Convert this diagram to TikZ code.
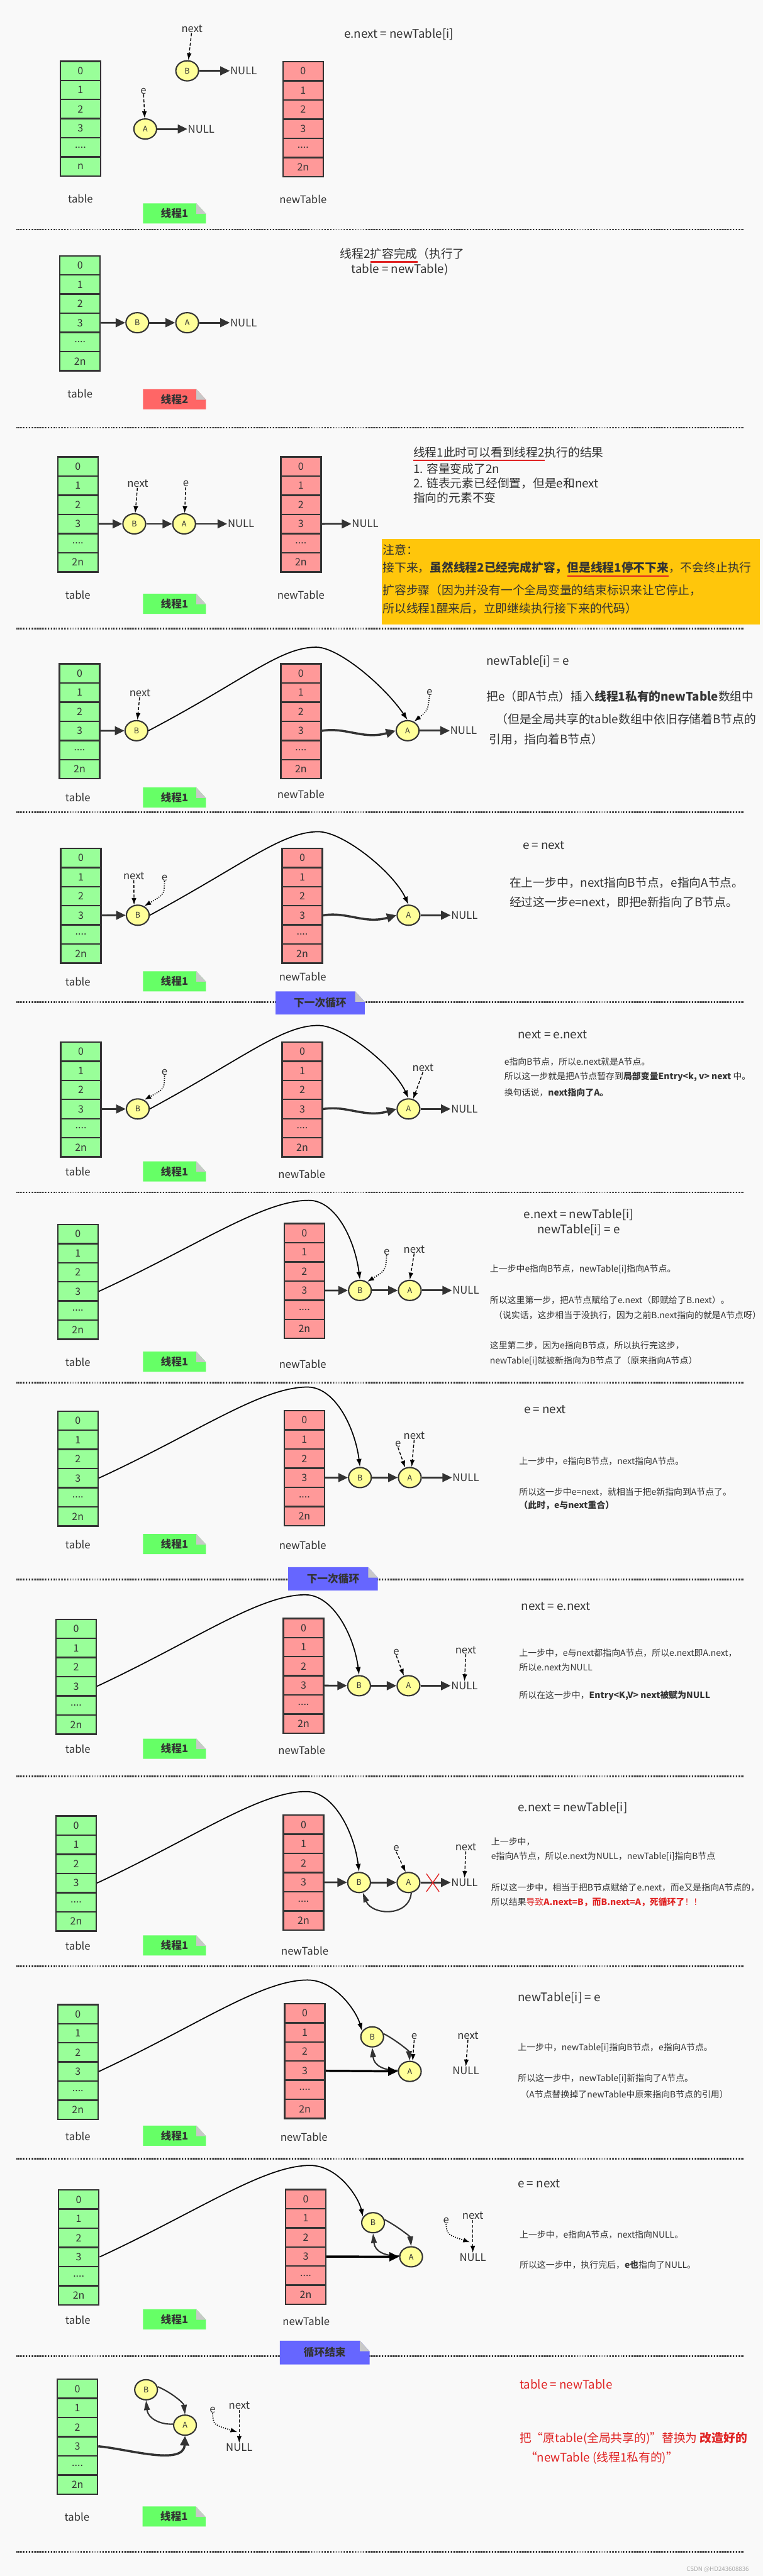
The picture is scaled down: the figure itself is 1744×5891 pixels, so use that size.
\documentclass[tikz,border=0pt]{standalone}
\usepackage{fontspec}
\setmainfont{Noto Sans CJK SC}
\usetikzlibrary{arrows.meta,shapes.geometric}

\definecolor{paper}{HTML}{F9F9F9}
\definecolor{ink}{HTML}{333333}
\definecolor{edge}{HTML}{333333}
\definecolor{cellgreen}{HTML}{99FF99}
\definecolor{cellpink}{HTML}{FF9999}
\definecolor{nodeyellow}{HTML}{FFFF99}
\definecolor{badgegreen}{HTML}{66FF66}
\definecolor{badgered}{HTML}{FF6666}
\definecolor{badgeblue}{HTML}{6666FF}
\definecolor{fold}{HTML}{C8C8C8}
\definecolor{notebox}{HTML}{FFC60B}
\definecolor{alertred}{HTML}{E02424}
\definecolor{faint}{HTML}{AAAAAA}

\newsavebox\mylinebox
\newcommand\redline[1]{\sbox\mylinebox{#1}\leavevmode\rlap{\textcolor{alertred}{\rule[-10pt]{\wd\mylinebox}{3pt}}}\usebox\mylinebox}
\newcommand\dotslabel{....}

% a column of six buckets: name prefix, x centre, y top, style, last label
\newcommand\mycolumn[5]{%
  \foreach \k/\txt in {0/0,1/1,2/2,3/3,4/\dotslabel,5/#5}{%
    \node[#4] (#1\k) at (#2,{#3+21.9+43.8*\k}) {\txt};
  }%
}
% a sticky-note tag with a folded corner: name, x, y, width, height, fill, text
\newcommand\mybadge[7]{%
  \fill[#6] (#2,#3) -- ({#2+#4-22},#3) -- ({#2+#4},{#3+24}) -- ({#2+#4},{#3+#5}) -- (#2,{#3+#5}) -- cycle;
  \fill[fold] ({#2+#4-22},#3) -- ({#2+#4},{#3+24}) -- ({#2+#4-22},{#3+24}) -- cycle;
  \node[badgetxt] (#1) at ({#2+#4/2},{#3+#5/2}) {#7};
}

\tikzset{
  greencell/.style={rectangle, draw=edge, line width=3.5pt, fill=cellgreen, minimum width=92pt, minimum height=43.8pt, inner sep=0pt, text=ink, font=\fontsize{23}{23}\selectfont},
  pinkcell/.style={greencell, fill=cellpink},
  entrynode/.style={ellipse, draw=edge, line width=3pt, fill=nodeyellow, minimum width=52pt, minimum height=46pt, inner sep=0pt, text=ink, font=\fontsize{18}{18}\selectfont},
  lbl/.style={inner sep=1pt, text=ink, font=\fontsize{24}{26}\selectfont},
  txt/.style={inner sep=0pt, text=ink, font=\fontsize{27}{33}\selectfont},
  sm/.style={inner sep=0pt, text=ink, font=\fontsize{20}{24}\selectfont},
  redtxt/.style={inner sep=0pt, text=alertred, font=\fontsize{27}{33}\selectfont},
  badgetxt/.style={inner sep=0pt, text=ink, font=\fontsize{24}{24}\selectfont\bfseries},
  nextlink/.style={draw=edge, line width=4pt, -{Triangle[length=22pt,width=20pt]}},
  slotlink/.style={draw=edge, line width=5pt, -{Triangle[length=22pt,width=20pt]}},
  straightlink/.style={draw=black, line width=5pt, -{Triangle[length=22pt,width=20pt]}},
  cyclink/.style={draw=edge, line width=3pt, -{Triangle[length=22pt,width=13pt]}},
  bigarc/.style={draw=black, line width=2.5pt, -{Latex[length=18pt,width=12pt]}},
  ptr/.style={draw=black, line width=2pt, dash pattern=on 7pt off 4pt, -{Latex[length=16pt,width=11pt]}},
  dptr/.style={draw=black, line width=2.5pt, dash pattern=on 2pt off 3pt, -{Latex[length=16pt,width=11pt]}},
  divider/.style={draw=edge, line width=4pt, dash pattern=on 2pt off 1.6pt},
}

\begin{document}
\begin{tikzpicture}[x=1pt,y=-1pt]
\useasboundingbox (0,0) rectangle (1744,5891);
\fill[paper] (0,0) rectangle (1744,5891);

% dotted dividers between the steps
\foreach \yy in {525,978,1437,1857,2292,2727,3162,3612,4062,4497,4937,5388,5836}
  \draw[divider] (38,\yy) -- (1700,\yy);

% ---------------- step 1: thread 1 suspended
\mycolumn{aT}{184}{140}{greencell}{n}
\mycolumn{aN}{693}{141}{pinkcell}{2n}
\node[lbl] (aTl) at (184,454) {table};
\node[lbl] (aNl) at (693,456) {newTable};
\mybadge{aTag}{327}{465}{144}{46}{badgegreen}{线程1}
\node[entrynode] (aB) at (428,162) {B};
\node[lbl] (aBz) at (557,162) {NULL};
\node[lbl] (aNx) at (439,66) {next};
\node[entrynode] (aA) at (332,295) {A};
\node[lbl] (aAz) at (460,295) {NULL};
\node[lbl] (aE) at (328,208) {e};
\draw[nextlink] (aB) -- (aBz);
\draw[nextlink] (aA) -- (aAz);
\draw[ptr] (aNx) -- (aB);
\draw[ptr] (aE) -- (aA);
\node[txt] (aCode) at (912,78) {e.next = newTable[i]};

% ---------------- step 2: thread 2 finishes the resize
\mycolumn{bT}{183}{585}{greencell}{2n}
\node[lbl] (bTl) at (183,900) {table};
\mybadge{bTag}{327}{890}{144}{46}{badgered}{线程2}
\node[entrynode] (bB) at (314,738) {B};
\node[entrynode] (bA) at (428,738) {A};
\node[lbl] (bZ) at (557,738) {NULL};
\draw[nextlink] (bT3) -- (bB);
\draw[nextlink] (bB) -- (bA);
\draw[nextlink] (bA) -- (bZ);
\node[txt] (bL1) at (920,584) {线程2\redline{扩容完成}（执行了};
\node[txt] (bL2) at (914,617) {table = newTable)};

% ---------------- step 3: what thread 1 sees
\mycolumn{cT}{178}{1045}{greencell}{2n}
\mycolumn{cN}{688}{1045}{pinkcell}{2n}
\node[lbl] (cTl) at (178,1360) {table};
\node[lbl] (cNl) at (688,1360) {newTable};
\mybadge{cTag}{327}{1358}{144}{46}{badgegreen}{线程1}
\node[entrynode] (cB) at (307,1198) {B};
\node[entrynode] (cA) at (421,1198) {A};
\node[lbl] (cZ) at (551,1198) {NULL};
\node[lbl] (cNx) at (315,1106) {next};
\node[lbl] (cE) at (425,1106) {e};
\node[lbl] (cNZ) at (835,1198) {NULL};
\draw[nextlink] (cT3) -- (cB);
\draw[nextlink] (cB) -- (cA);
\draw[nextlink] (cA) -- (cZ);
\draw[nextlink] (cN3) -- (cNZ);
\draw[ptr] (cNx) -- (cB);
\draw[ptr] (cE) -- (cA);
\node[txt, anchor=west] (cL1) at (945,1038) {\redline{线程1此时可以看到线程2}执行的结果};
\node[txt, anchor=west] (cL2) at (945,1072) {1. 容量变成了2n};
\node[txt, anchor=west] (cL3) at (945,1105) {2. 链表元素已经倒置，但是e和next};
\node[txt, anchor=west] (cL4) at (945,1138) {指向的元素不变};
\fill[notebox] (873,1232) rectangle (1738,1428);
\node[txt, anchor=west] (cW1) at (875,1257) {注意：};
\node[txt, anchor=west] (cW2) at (875,1302) {接下来，\textbf{虽然线程2已经完成扩容，\redline{但是线程1停不下来}}，不会终止执行};
\node[txt, anchor=west] (cW3) at (875,1350) {扩容步骤（因为并没有一个全局变量的结束标识来让它停止，};
\node[txt, anchor=west] (cW4) at (875,1392) {所以线程1醒来后，立即继续执行接下来的代码）};

% ---------------- step 4: newTable[i] = e
\mycolumn{dT}{182}{1518}{greencell}{2n}
\mycolumn{dN}{688}{1518}{pinkcell}{2n}
\node[lbl] (dTl) at (178,1823) {table};
\node[lbl] (dNl) at (688,1817) {newTable};
\mybadge{dTag}{327}{1801}{144}{46}{badgegreen}{线程1}
\node[entrynode] (dB) at (312,1671) {B};
\node[entrynode] (dA) at (932,1671) {A};
\node[lbl] (dZ) at (1060,1671) {NULL};
\node[lbl] (dNx) at (320,1585) {next};
\node[lbl] (dE) at (982,1583) {e};
\coordinate (dTop) at (723,1480);
\draw[nextlink] (dT3) -- (dB);
\draw[ptr] (dNx) -- (dB);
\draw[bigarc] (dB.east) .. controls (560,1555) and (640,1480) .. (dTop) .. controls (775,1480) and (880,1570) .. (dA.north);
\draw[slotlink] (dN3.east) .. controls (790,1662) and (830,1692) .. (dA.west);
\draw[nextlink] (dA) -- (dZ);
\draw[dptr] (dE.south) .. controls (978,1625) .. (dA.55);
\node[txt, anchor=west] (dL1) at (1112,1512) {newTable[i] = e};
\node[txt, anchor=west] (dL2) at (1112,1592) {把e（即A节点）插入\textbf{线程1私有的newTable}数组中};
\node[txt, anchor=west] (dL3) at (1134,1645) {（但是全局共享的table数组中依旧存储着B节点的};
\node[txt, anchor=west] (dL4) at (1118,1690) {引用，指向着B节点）};

% ---------------- step 5: e = next
\mycolumn{eT}{185}{1940}{greencell}{2n}
\mycolumn{eN}{691}{1940}{pinkcell}{2n}
\node[lbl] (eTl) at (178,2245) {table};
\node[lbl] (eNl) at (692,2233) {newTable};
\mybadge{eTag}{327}{2221}{144}{46}{badgegreen}{线程1}
\node[entrynode] (eB) at (315,2093) {B};
\node[entrynode] (eA) at (934,2093) {A};
\node[lbl] (eZ) at (1062,2093) {NULL};
\node[lbl] (eNx) at (306,2003) {next};
\node[lbl] (eE) at (376,2007) {e};
\coordinate (eTop) at (728,1902);
\draw[nextlink] (eT3) -- (eB);
\draw[ptr] (eNx.south) -- (eB.110);
\draw[dptr] (eE.south) .. controls (376,2045) .. (eB.55);
\draw[bigarc] (eB.east) .. controls (560,1975) and (645,1902) .. (eTop) .. controls (785,1902) and (900,1995) .. (eA.north);
\draw[slotlink] (eN3.east) .. controls (793,2084) and (833,2114) .. (eA.west);
\draw[nextlink] (eA) -- (eZ);
\node[txt, anchor=west] (eL1) at (1195,1933) {e = next};
\node[txt, anchor=west] (eL2) at (1165,2018) {在上一步中，next指向B节点，e指向A节点。};
\node[txt, anchor=west] (eL3) at (1165,2063) {经过这一步e=next，即把e新指向了B节点。};
\mybadge{loopTagA}{630}{2267}{204}{53}{badgeblue}{下一次循环}

% ---------------- step 6: next = e.next
\mycolumn{fT}{185}{2383}{greencell}{2n}
\mycolumn{fN}{691}{2383}{pinkcell}{2n}
\node[lbl] (fTl) at (178,2680) {table};
\node[lbl] (fNl) at (690,2685) {newTable};
\mybadge{fTag}{327}{2656}{144}{46}{badgegreen}{线程1}
\node[entrynode] (fB) at (315,2536) {B};
\node[entrynode] (fA) at (934,2536) {A};
\node[lbl] (fZ) at (1062,2536) {NULL};
\node[lbl] (fE) at (376,2452) {e};
\node[lbl] (fNx) at (967,2442) {next};
\coordinate (fTop) at (728,2345);
\draw[nextlink] (fT3) -- (fB);
\draw[dptr] (fE.south) .. controls (376,2490) .. (fB.55);
\draw[bigarc] (fB.east) .. controls (560,2418) and (645,2345) .. (fTop) .. controls (785,2345) and (900,2438) .. (fA.north);
\draw[slotlink] (fN3.east) .. controls (793,2527) and (833,2557) .. (fA.west);
\draw[nextlink] (fA) -- (fZ);
\draw[ptr] (fNx.south) -- (fA.65);
\node[txt, anchor=west] (fL1) at (1184,2366) {next = e.next};
\node[sm, anchor=west] (fL2) at (1153,2428) {e指向B节点，所以e.next就是A节点。};
\node[sm, anchor=west] (fL3) at (1153,2463) {所以这一步就是把A节点暂存到\textbf{局部变量Entry<k, v> next} 中。};
\node[sm, anchor=west] (fL4) at (1153,2498) {换句话说，\textbf{next指向了A。}};

% ---------------- step 7: e.next = newTable[i]; newTable[i] = e
\mycolumn{gT}{178}{2800}{greencell}{2n}
\mycolumn{gN}{696}{2798}{pinkcell}{2n}
\node[lbl] (gTl) at (178,3115) {table};
\node[lbl] (gNl) at (692,3120) {newTable};
\mybadge{gTag}{327}{3091}{144}{46}{badgegreen}{线程1}
\node[entrynode] (gB) at (823,2951) {B};
\node[entrynode] (gA) at (937,2951) {A};
\node[lbl] (gZ) at (1065,2951) {NULL};
\node[lbl] (gE) at (884,2863) {e};
\node[lbl] (gNx) at (947,2857) {next};
\coordinate (gTop) at (706,2745);
\draw[bigarc] (gT3.east) .. controls (450,2850) and (600,2745) .. (gTop) .. controls (770,2745) and (812,2840) .. (gB.north);
\draw[nextlink] (gN3) -- (gB);
\draw[nextlink] (gB) -- (gA);
\draw[nextlink] (gA) -- (gZ);
\draw[dptr] (gE.south) .. controls (882,2905) .. (gB.50);
\draw[ptr] (gNx.south) -- (gA.north);
\node[txt] (gL1) at (1323,2778) {e.next = newTable[i]};
\node[txt] (gL2) at (1323,2812) {newTable[i] = e};
\node[sm, anchor=west] (gL3) at (1120,2902) {上一步中e指向B节点，newTable[i]指向A节点。};
\node[sm, anchor=west] (gL4) at (1120,2973) {所以这里第一步，把A节点赋给了e.next（即赋给了B.next）。};
\node[sm, anchor=west] (gL5) at (1129,3008) {（说实话，这步相当于没执行，因为之前B.next指向的就是A节点呀）};
\node[sm, anchor=west] (gL6) at (1120,3077) {这里第二步，因为e指向B节点，所以执行完这步，};
\node[sm, anchor=west] (gL7) at (1120,3112) {newTable[i]就被新指向为B节点了（原来指向A节点）};

% ---------------- step 8: e = next
\mycolumn{hT}{178}{3227}{greencell}{2n}
\mycolumn{hN}{696}{3226}{pinkcell}{2n}
\node[lbl] (hTl) at (178,3532) {table};
\node[lbl] (hNl) at (692,3533) {newTable};
\mybadge{hTag}{327}{3508}{144}{46}{badgegreen}{线程1}
\node[entrynode] (hB) at (823,3379) {B};
\node[entrynode] (hA) at (937,3379) {A};
\node[lbl] (hZ) at (1065,3379) {NULL};
\node[lbl] (hE) at (910,3302) {e};
\node[lbl] (hNx) at (947,3283) {next};
\coordinate (hTop) at (703,3172);
\draw[bigarc] (hT3.east) .. controls (450,3277) and (597,3172) .. (hTop) .. controls (767,3172) and (812,3267) .. (hB.north);
\draw[nextlink] (hN3) -- (hB);
\draw[nextlink] (hB) -- (hA);
\draw[nextlink] (hA) -- (hZ);
\draw[ptr] (hE.south) -- (hA.115);
\draw[ptr] (hNx.south) -- (hA.80);
\node[txt, anchor=west] (hL1) at (1198,3223) {e = next};
\node[sm, anchor=west] (hL2) at (1187,3342) {上一步中，e指向B节点，next指向A节点。};
\node[sm, anchor=west] (hL3) at (1187,3412) {所以这一步中e=next，就相当于把e新指向到A节点了。};
\node[sm, anchor=west] (hL4) at (1187,3442) {\textbf{（此时，e与next重合）}};
\mybadge{loopTagB}{659}{3584}{205}{53}{badgeblue}{下一次循环}

% ---------------- step 9: next = e.next
\mycolumn{iT}{174}{3703}{greencell}{2n}
\mycolumn{iN}{694}{3701}{pinkcell}{2n}
\node[lbl] (iTl) at (178,4000) {table};
\node[lbl] (iNl) at (690,4002) {newTable};
\mybadge{iTag}{327}{3976}{144}{46}{badgegreen}{线程1}
\node[entrynode] (iB) at (821,3855) {B};
\node[entrynode] (iA) at (934,3855) {A};
\node[lbl] (iZ) at (1062,3855) {NULL};
\node[lbl] (iE) at (906,3778) {e};
\node[lbl] (iNx) at (1065,3773) {next};
\coordinate (iTop) at (698,3647);
\draw[bigarc] (iT3.east) .. controls (445,3752) and (592,3647) .. (iTop) .. controls (762,3647) and (810,3742) .. (iB.north);
\draw[nextlink] (iN3) -- (iB);
\draw[nextlink] (iB) -- (iA);
\draw[nextlink] (iA) -- (iZ);
\draw[ptr] (iE.south) -- (iA.115);
\draw[ptr] (iNx.south) -- (iZ.north);
\node[txt, anchor=west] (iL1) at (1192,3673) {next = e.next};
\node[sm, anchor=west] (iL2) at (1187,3780) {上一步中，e与next都指向A节点，所以e.next即A.next，};
\node[sm, anchor=west] (iL3) at (1187,3813) {所以e.next为NULL};
\node[sm, anchor=west] (iL4) at (1187,3877) {所以在这一步中，\textbf{Entry<K,V> next被赋为NULL}};

% ---------------- step 10: e.next = newTable[i] closes the cycle
\mycolumn{jT}{174}{4153}{greencell}{2n}
\mycolumn{jN}{694}{4151}{pinkcell}{2n}
\node[lbl] (jTl) at (178,4450) {table};
\node[lbl] (jNl) at (697,4462) {newTable};
\mybadge{jTag}{327}{4426}{144}{46}{badgegreen}{线程1}
\node[entrynode] (jB) at (821,4305) {B};
\node[entrynode] (jA) at (934,4305) {A};
\node[lbl] (jZ) at (1062,4305) {NULL};
\node[lbl] (jE) at (906,4227) {e};
\node[lbl] (jNx) at (1065,4224) {next};
\coordinate (jTop) at (700,4097);
\draw[bigarc] (jT3.east) .. controls (445,4202) and (594,4097) .. (jTop) .. controls (764,4097) and (810,4192) .. (jB.north);
\draw[nextlink] (jN3) -- (jB);
\draw[nextlink] (jB) -- (jA);
\draw[nextlink] (jA) -- (jZ);
\draw[cyclink] (jA.-75) .. controls (935,4385) and (850,4380) .. (jB.-70);
\draw[alertred, line width=2pt] (975,4285) -- (1004,4326);
\draw[alertred, line width=2pt] (1004,4285) -- (975,4326);
\draw[ptr] (jE.south) -- (jA.105);
\draw[ptr] (jNx.south) -- (jZ.north);
\node[txt, anchor=west] (jL1) at (1184,4135) {e.next = newTable[i]};
\node[sm, anchor=west] (jL2) at (1123,4212) {上一步中，};
\node[sm, anchor=west] (jL3) at (1123,4245) {e指向A节点，所以e.next为NULL，newTable[i]指向B节点};
\node[sm, anchor=west] (jL4) at (1123,4317) {所以这一步中，相当于把B节点赋给了e.next，而e又是指向A节点的，};
\node[sm, anchor=west] (jL5) at (1123,4350) {所以结果\textcolor{alertred}{导致\textbf{A.next=B，而B.next=A，死循环了}！！}};

% ---------------- step 11: newTable[i] = e
\mycolumn{kT}{178}{4584}{greencell}{2n}
\mycolumn{kN}{697}{4582}{pinkcell}{2n}
\node[lbl] (kTl) at (178,4885) {table};
\node[lbl] (kNl) at (695,4887) {newTable};
\mybadge{kTag}{327}{4861}{144}{46}{badgegreen}{线程1}
\node[entrynode] (kB) at (851,4658) {B};
\node[entrynode] (kA) at (937,4737) {A};
\node[lbl] (kZ) at (1065,4736) {NULL};
\node[lbl] (kE) at (947,4657) {e};
\node[lbl] (kNx) at (1070,4655) {next};
\coordinate (kTop) at (703,4528);
\draw[bigarc] (kT3.east) .. controls (450,4633) and (597,4528) .. (kTop) .. controls (767,4528) and (815,4600) .. (kB.150);
\draw[cyclink] (kB.15) .. controls (905,4665) and (935,4690) .. (kA.north);
\draw[cyclink] (kA.175) .. controls (880,4735) and (855,4725) .. (kB.south);
\draw[straightlink] (kN3) -- (kA);
\draw[ptr] (kE.south) -- (kA.75);
\draw[ptr] (kNx.south) -- (kZ.north);
\node[txt, anchor=west] (kL1) at (1184,4568) {newTable[i] = e};
\node[sm, anchor=west] (kL2) at (1184,4683) {上一步中，newTable[i]指向B节点，e指向A节点。};
\node[sm, anchor=west] (kL3) at (1184,4753) {所以这一步中，newTable[i]新指向了A节点。};
\node[sm, anchor=west] (kL4) at (1190,4790) {（A节点替换掉了newTable中原来指向B节点的引用）};

% ---------------- step 12: e = next
\mycolumn{lT}{180}{5008}{greencell}{2n}
\mycolumn{lN}{699}{5007}{pinkcell}{2n}
\node[lbl] (lTl) at (178,5305) {table};
\node[lbl] (lNl) at (700,5308) {newTable};
\mybadge{lTag}{327}{5281}{144}{46}{badgegreen}{线程1}
\node[entrynode] (lB) at (853,5083) {B};
\node[entrynode] (lA) at (940,5161) {A};
\node[lbl] (lZ) at (1081,5162) {NULL};
\node[lbl] (lE) at (1020,5078) {e};
\node[lbl] (lNx) at (1081,5067) {next};
\coordinate (lTop) at (709,4952);
\coordinate (lEtip) at (1075,5128);
\draw[bigarc] (lT3.east) .. controls (453,5057) and (603,4952) .. (lTop) .. controls (773,4952) and (820,5025) .. (lB.150);
\draw[cyclink] (lB.15) .. controls (907,5090) and (938,5115) .. (lA.north);
\draw[cyclink] (lA.175) .. controls (883,5160) and (857,5150) .. (lB.south);
\draw[straightlink] (lN3) -- (lA);
\draw[dptr] (lE.south) .. controls (1022,5110) .. (lEtip);
\draw[ptr] (lNx.south) -- (lZ.north);
\node[txt, anchor=west] (lL1) at (1184,4994) {e = next};
\node[sm, anchor=west] (lL2) at (1188,5110) {上一步中，e指向A节点，next指向NULL。};
\node[sm, anchor=west] (lL3) at (1188,5180) {所以这一步中，执行完后，\textbf{e也}指向了NULL。};

% ---------------- end of the loop: table = newTable
\mybadge{endTag}{640}{5353}{205}{54}{badgeblue}{循环结束}
\mycolumn{mT}{177}{5441}{greencell}{2n}
\node[lbl] (mTl) at (176,5756) {table};
\mybadge{mTag}{326}{5732}{144}{46}{badgegreen}{线程1}
\node[entrynode] (mB) at (334,5465) {B};
\node[entrynode] (mA) at (423,5546) {A};
\node[lbl] (mZ) at (547,5597) {NULL};
\node[lbl] (mE) at (486,5511) {e};
\node[lbl] (mNx) at (547,5501) {next};
\coordinate (mEtip) at (543,5562);
\draw[cyclink] (mB.15) .. controls (390,5470) and (420,5495) .. (mA.north);
\draw[cyclink] (mA.175) .. controls (365,5545) and (338,5530) .. (mB.south);
\draw[slotlink] (mT3.east) .. controls (290,5600) and (420,5640) .. (mA.south);
\draw[dptr] (mE.south) .. controls (488,5545) .. (mEtip);
\draw[ptr] (mNx.south) -- (mZ.north);
\node[redtxt, anchor=west] (mL1) at (1188,5452) {table = newTable};
\node[redtxt, anchor=west] (mL2) at (1188,5576) {把“原table(全局共享的)”替换为 \textbf{改造好的}};
\node[redtxt, anchor=west] (mL3) at (1201,5621) {“newTable (线程1私有的)”};

\node[inner sep=0pt, text=faint, font=\fontsize{14}{14}\selectfont] (mark) at (1641,5876) {CSDN @HD243608836};
\end{tikzpicture}
\end{document}
